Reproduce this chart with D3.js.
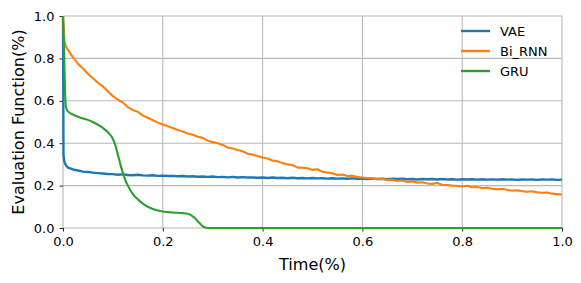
<!DOCTYPE html>
<html>
<head>
<meta charset="utf-8">
<script src="https://cdn.jsdelivr.net/npm/d3@7"></script>
<style>
  body { margin: 0; background: #fff; }
  text { font-family: "DejaVu Sans", sans-serif; fill: #000; }
</style>
</head>
<body>
<div id="plot"></div>
<script>
// Series names and colors
var seriesNames = ["VAE", "Bi_RNN", "GRU"];
var seriesColors = ["#1f77b4", "#ff7f0e", "#2ca02c"];

// Tick labels
var xTicks = [0.0, 0.2, 0.4, 0.6, 0.8, 1.0];
var yTicks = [0.0, 0.2, 0.4, 0.6, 0.8, 1.0];

// Shared time grid for VAE and Bi_RNN
var timeGrid = [0.01,0.02,0.03,0.04,0.05,0.06,0.07,0.08,0.09,0.10,
  0.11,0.12,0.13,0.14,0.15,0.16,0.17,0.18,0.19,0.20,
  0.21,0.22,0.23,0.24,0.25,0.26,0.27,0.28,0.29,0.30,
  0.31,0.32,0.33,0.34,0.35,0.36,0.37,0.38,0.39,0.40,
  0.41,0.42,0.43,0.44,0.45,0.46,0.47,0.48,0.49,0.50,
  0.51,0.52,0.53,0.54,0.55,0.56,0.57,0.58,0.59,0.60,
  0.61,0.62,0.63,0.64,0.65,0.66,0.67,0.68,0.69,0.70,
  0.71,0.72,0.73,0.74,0.75,0.76,0.77,0.78,0.79,0.80,
  0.81,0.82,0.83,0.84,0.85,0.86,0.87,0.88,0.89,0.90,
  0.91,0.92,0.93,0.94,0.95,0.96,0.97,0.98,0.99,1.00];

// VAE: first steps, then values on the grid
var vaeHeadT = [0, 0.001, 0.003, 0.006];
var vaeHeadV = [1.0, 0.34, 0.31, 0.295];
var vaeValues = [0.285,0.276,0.271,0.266,0.264,0.261,0.259,0.257,0.255,0.254,
  0.251,0.253,0.250,0.249,0.251,0.248,0.247,0.249,0.246,0.247,
  0.245,0.246,0.244,0.245,0.243,0.244,0.242,0.243,0.241,0.243,
  0.240,0.241,0.239,0.241,0.238,0.240,0.238,0.239,0.237,0.238,
  0.236,0.238,0.236,0.237,0.235,0.237,0.235,0.236,0.234,0.236,
  0.234,0.235,0.233,0.235,0.233,0.234,0.232,0.234,0.232,0.233,
  0.231,0.233,0.231,0.232,0.230,0.232,0.231,0.232,0.230,0.231,
  0.229,0.231,0.230,0.231,0.229,0.231,0.229,0.230,0.228,0.230,
  0.229,0.230,0.228,0.230,0.228,0.229,0.228,0.230,0.228,0.229,
  0.227,0.229,0.228,0.229,0.227,0.229,0.228,0.229,0.227,0.228];

// Bi_RNN
var biHeadT = [0, 0.003, 0.006];
var biHeadV = [1.0, 0.88, 0.855];
var biValues = [0.840,0.805,0.775,0.752,0.728,0.706,0.685,0.668,0.645,0.622,
  0.605,0.592,0.570,0.556,0.548,0.530,0.520,0.508,0.497,0.488,
  0.480,0.472,0.462,0.455,0.446,0.440,0.430,0.425,0.412,0.405,
  0.400,0.392,0.380,0.375,0.368,0.362,0.350,0.346,0.340,0.333,
  0.328,0.318,0.315,0.306,0.300,0.297,0.285,0.284,0.282,0.274,
  0.277,0.265,0.262,0.258,0.250,0.252,0.245,0.247,0.240,0.238,
  0.236,0.234,0.230,0.232,0.226,0.228,0.222,0.224,0.217,0.220,
  0.214,0.216,0.210,0.208,0.212,0.204,0.203,0.200,0.198,0.196,
  0.199,0.192,0.193,0.189,0.190,0.185,0.182,0.185,0.180,0.176,
  0.178,0.174,0.171,0.173,0.168,0.166,0.167,0.162,0.160,0.158];

// GRU (smooth)
var gruT = [0,0.002,0.004,0.006,0.01,0.02,0.03,0.04,0.05,0.06,0.07,0.08,0.09,0.10,
  0.105,0.11,0.115,0.12,0.125,0.13,0.14,0.15,0.16,0.17,0.18,0.19,0.20,0.22,0.24,
  0.25,0.26,0.265,0.27,0.275,0.28,0.285,0.29,0.40,0.60,0.80,1.00];
var gruV = [1.0,0.85,0.65,0.57,0.55,0.535,0.525,0.517,0.51,0.50,0.487,0.472,0.452,0.42,
  0.39,0.345,0.30,0.26,0.225,0.20,0.16,0.135,0.115,0.10,0.09,0.083,0.078,0.073,0.07,
  0.067,0.055,0.045,0.032,0.02,0.008,0.002,0.0,0.0,0.0,0.0,0.0];

var chartWidth = 499;
var chartHeight = 212;
const margin = {top: 16, right: 19, bottom: 55, left: 63};

function zip(ts, vs) {
  return ts.map(function(t, i) { return {t: t, v: vs[i]}; });
}

var seriesData = [
  zip(vaeHeadT.concat(timeGrid), vaeHeadV.concat(vaeValues)),
  zip(biHeadT.concat(timeGrid), biHeadV.concat(biValues)),
  zip(gruT, gruV)
];

var svg = d3.select("#plot")
  .append("svg")
  .attr("width", 581)
  .attr("height", 283)
  .append("g")
  .attr("transform", "translate(" + margin.left + "," + margin.top + ")");

var scaleX = d3.scaleLinear().domain([0, 1]).range([0, chartWidth]);
var scaleY = d3.scaleLinear().domain([0, 1]).range([chartHeight, 0]);

// Grid
svg.append("g")
  .selectAll("line")
  .data(xTicks)
  .enter()
  .append("line")
  .attr("x1", function(d) { return scaleX(d); })
  .attr("x2", function(d) { return scaleX(d); })
  .attr("y1", 0)
  .attr("y2", chartHeight)
  .attr("stroke", "#b8b8b8")
  .attr("stroke-width", 1.1);

svg.append("g")
  .selectAll("line")
  .data(yTicks)
  .enter()
  .append("line")
  .attr("y1", function(d) { return scaleY(d); })
  .attr("y2", function(d) { return scaleY(d); })
  .attr("x1", 0)
  .attr("x2", chartWidth)
  .attr("stroke", "#b8b8b8")
  .attr("stroke-width", 1.1);

// Axes (ticks only, no spines)
var xAxis = svg.append("g")
  .attr("transform", "translate(0," + chartHeight + ")")
  .call(d3.axisBottom(scaleX).tickValues(xTicks).tickFormat(d3.format(".1f")).tickSize(3.5).tickPadding(5));

var yAxis = svg.append("g")
  .call(d3.axisLeft(scaleY).tickValues(yTicks).tickFormat(d3.format(".1f")).tickSize(3.5).tickPadding(5));

[xAxis, yAxis].forEach(function(a) {
  a.select(".domain").remove();
  a.selectAll("line").attr("stroke", "#222").attr("stroke-width", 1);
  a.selectAll("text")
    .style("font-family", "DejaVu Sans, sans-serif")
    .style("font-size", "13px")
    .attr("fill", "#000");
});

// Lines
seriesData.forEach(function(data, i) {
  var line = d3.line()
    .x(function(d) { return scaleX(d.t); })
    .y(function(d) { return scaleY(d.v); });
  if (i == 2) line.curve(d3.curveMonotoneX);
  svg.append("path")
    .datum(data)
    .attr("d", line)
    .attr("fill", "none")
    .attr("stroke", seriesColors[i])
    .attr("stroke-width", i == 0 ? 2.4 : 2.1)
    .attr("stroke-linejoin", "round");
});

// Legend
var legend = svg.append("g")
  .attr("transform", "translate(" + (461 - margin.left) + "," + (31 - margin.top) + ")");

seriesNames.forEach(function(name, i) {
  legend.append("line")
    .attr("x1", 0)
    .attr("x2", 29)
    .attr("y1", i * 20)
    .attr("y2", i * 20)
    .attr("stroke", seriesColors[i])
    .attr("stroke-width", 2.4);
  legend.append("text")
    .attr("x", 39)
    .attr("y", i * 20 + 4.5)
    .style("font-size", "13px")
    .text(name);
});

// Axis labels
svg.append("text")
  .attr("text-anchor", "middle")
  .attr("x", chartWidth / 2)
  .attr("y", chartHeight + 42)
  .style("font-size", "16px")
  .text("Time(%)");

svg.append("text")
  .attr("text-anchor", "middle")
  .attr("transform", "translate(" + (24 - margin.left) + "," + (chartHeight / 2) + ") rotate(-90)")
  .style("font-size", "16px")
  .text("Evaluation Function(%)");
</script>
</body>
</html>
